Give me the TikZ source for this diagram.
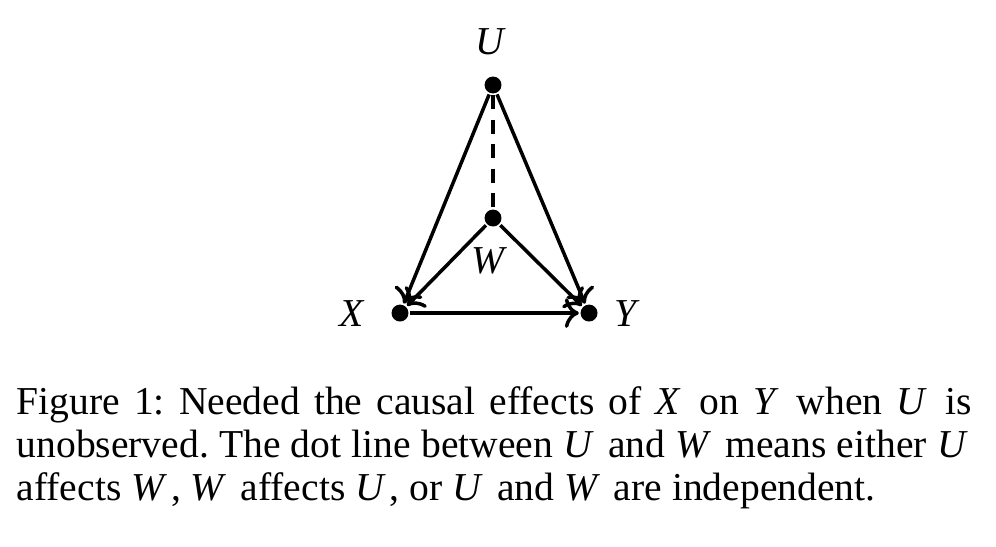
\documentclass[tikz,border=0pt]{standalone}
\usepackage{fontspec}
\setmainfont{Liberation Serif}
\usetikzlibrary{positioning,arrows.meta}
\newcommand{\var}[1]{\textit{#1}\/\kern0.1em\relax}

\begin{document}
\frenchspacing
\begin{tikzpicture}[font=\fontsize{11.3}{12.26}\selectfont, line width=1pt, >={To[length=4pt,width=8.5pt]},
    vertex/.style={circle, fill=black, inner sep=0pt, minimum size=0.17cm}]
    \useasboundingbox (0,0) rectangle (10,5.482);
    % Nodes
    \node (u) [vertex] at (4.95,4.629) {};
    \node (w) [vertex] at (4.95,3.293) {};
    \node (x) [vertex] at (4.016,2.339) {};
    \node (y) [vertex] at (5.914,2.339) {};
    \node (ulab) [above=0.06cm of u] {\var{U}};
    \node (wlab) [below=0.06cm of w, xshift=-0.02cm] {\var{W}};
    \node (xlab) [left=0.08cm of x] {\var{X}};
    \node (ylab) [right=0.02cm of y] {\var{Y}};

    % Arrows
    \draw[->] (u) -- (x);
    \draw[->] (u) -- (y);
    \draw[->] (w) -- (x);
    \draw[->] (w) -- (y);
    \draw[->] (x) -- (y);
    \draw[dash pattern=on 4pt off 3pt] (u) -- (w);

    % Caption
    \node (caption) [anchor=north west, inner sep=0pt, text width=9.59cm, align=justify] at (0.15,1.62)
        {Figure 1: Needed the causal effects of \var{X} on \var{Y} when \var{U} is\linebreak
        unobserved. The dot line between \var{U} and \var{W} means either \var{U}\linebreak
        affects \var{W}, \var{W} affects \var{U}, or \var{U} and \var{W} are independent.};
\end{tikzpicture}
\end{document}
